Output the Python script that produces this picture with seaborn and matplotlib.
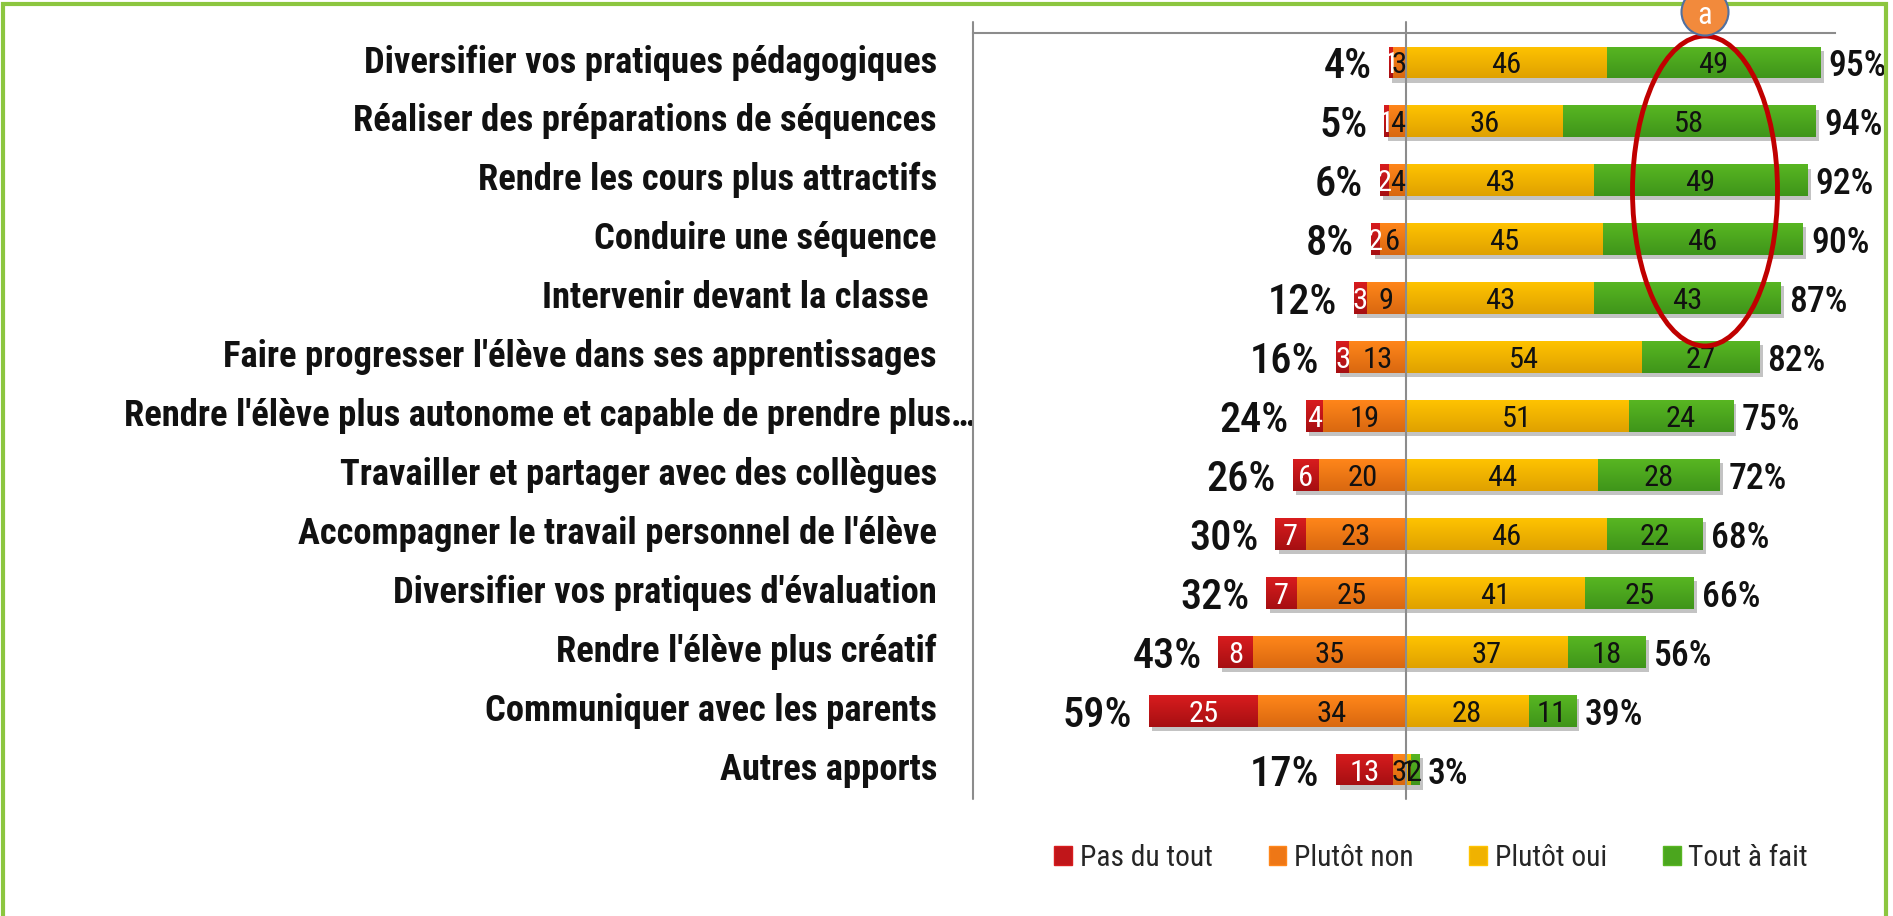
import numpy as np
import pandas as pd
import matplotlib
matplotlib.use("Agg")
import matplotlib.pyplot as plt
import seaborn as sns
from matplotlib import patheffects as pe
from matplotlib import font_manager as fm
from matplotlib.patches import Ellipse, Circle, Rectangle
from matplotlib.colors import LinearSegmentedColormap
from matplotlib.textpath import TextPath
import matplotlib.transforms as mtransforms

# ---------------- data ----------------
categories = [
    "Diversifier vos pratiques pédagogiques",
    "Réaliser des préparations de séquences",
    "Rendre les cours plus attractifs",
    "Conduire une séquence",
    "Intervenir devant la classe ",
    "Faire progresser l'élève dans ses apprentissages",
    "Rendre l'élève plus autonome et capable de prendre plus…",
    "Travailler et partager avec des collègues",
    "Accompagner le travail personnel de l'élève",
    "Diversifier vos pratiques d'évaluation",
    "Rendre l'élève plus créatif",
    "Communiquer avec les parents",
    "Autres apports",
]
pas_du_tout = [1, 1, 2, 2, 3, 3, 4, 6, 7, 7, 8, 25, 13]
plutot_non = [3, 4, 4, 6, 9, 13, 19, 20, 23, 25, 35, 34, 3]
plutot_oui = [46, 36, 43, 45, 43, 54, 51, 44, 46, 41, 37, 28, 1]
tout_a_fait = [49, 58, 49, 46, 43, 27, 24, 28, 22, 25, 18, 11, 2]
neg_totals = ["4%", "5%", "6%", "8%", "12%", "16%", "24%", "26%", "30%", "32%", "43%", "59%", "17%"]
pos_totals = ["95%", "94%", "92%", "90%", "87%", "82%", "75%", "72%", "68%", "66%", "56%", "39%", "3%"]
series_names = ["Pas du tout", "Plutôt non", "Plutôt oui", "Tout à fait"]

# ---------------- fonts ----------------
sns.set_style("white")
plt.rcParams["font.family"] = ["Liberation Sans", "DejaVu Sans"]


def _wnum(w):
    if isinstance(w, str):
        return fm.weight_dict.get(w, 400)
    return int(w)


def pick_fonts():
    prefs = ["liberation sans narrow", "arial narrow", "roboto condensed", "open sans condensed",
             "noto sans condensed", "dejavu sans condensed", "pt sans narrow"]
    cands = []
    for e in fm.fontManager.ttflist:
        nm = e.name.lower()
        st = str(e.stretch).lower()
        narrow = ("narrow" in nm or "condensed" in nm or st in ("condensed", "semi-condensed")
                  or "condensed" in e.fname.lower() or "narrow" in e.fname.lower())
        if narrow and e.style == "normal" and "cjk" not in nm:
            cands.append(e)
    if not cands:
        base = ["Liberation Sans", "DejaVu Sans"]
        return (fm.FontProperties(family=base), fm.FontProperties(family=base),
                fm.FontProperties(family=base, weight="bold"))

    def rank(e):
        nm = e.name.lower()
        fn = e.fname.lower()
        for k, p in enumerate(prefs):
            if p in nm or p.replace(" ", "") in fn.replace("-", "").replace("_", ""):
                return k
        return len(prefs)

    cands.sort(key=rank)
    best = cands[0]
    fam = [e for e in cands if e.name == best.name and str(e.stretch) == str(best.stretch)]
    reg = min(fam, key=lambda e: abs(_wnum(e.weight) - 400))
    med = min(fam, key=lambda e: (abs(_wnum(e.weight) - 500), _wnum(e.weight) > 500))
    bold = min(fam, key=lambda e: abs(_wnum(e.weight) - 700))
    return (fm.FontProperties(fname=reg.fname), fm.FontProperties(fname=med.fname),
            fm.FontProperties(fname=bold.fname))


FP_REG, FP_MED, FP_BOLD = pick_fonts()

col_top = {"Pas du tout": "#D81C1E", "Plutôt non": "#FF861A", "Plutôt oui": "#FFC300", "Tout à fait": "#58B622"}
col_bot = {"Pas du tout": "#A60F12", "Plutôt non": "#D96810", "Plutôt oui": "#DFA100", "Tout à fait": "#3F951A"}
col_mid = {"Pas du tout": "#C0161A", "Plutôt non": "#EE7716", "Plutôt oui": "#F0B200", "Tout à fait": "#4BA61E"}

df = pd.DataFrame({
    "cat": categories,
    "pas": pas_du_tout,
    "non": plutot_non,
    "oui": plutot_oui,
    "tout": tout_a_fait,
})
df["neg_full"] = -(df["pas"] + df["non"])
df["neg_inner"] = -df["non"]
df["pos_full"] = df["oui"] + df["tout"]
df["pos_inner"] = df["oui"]

W, H = 1893, 916
DPI = 100
fig = plt.figure(figsize=(W / DPI, H / DPI), dpi=DPI)
ax_top, ax_bot = 33, 799
ax_l, ax_r = 973, 1835
ax = fig.add_axes([ax_l / W, (H - ax_bot) / H, (ax_r - ax_l) / W, (ax_bot - ax_top) / H])
renderer = fig.canvas.get_renderer()


def fit_w(fp, sample, target_px):
    p = fp.copy()
    p.set_size(20)
    t = fig.text(0, 0, sample, fontproperties=p)
    w = t.get_window_extent(renderer).width
    t.remove()
    q = fp.copy()
    q.set_size(20 * target_px / w)
    return q


def fit_h(fp, sample, target_px):
    p = fp.copy()
    tp = TextPath((0, 0), sample, size=20, prop=p)
    h = tp.get_extents().height
    q = fp.copy()
    q.set_size(20 * target_px / (h * DPI / 72))
    return q


FP_CAT = fit_w(FP_BOLD, "Faire progresser l'élève dans ses apprentissages", 711)
FP_LTOT = fit_h(FP_MED, "59", 31)
FP_RTOT = fit_h(FP_MED, "39", 26)
FP_SEG = fit_h(FP_REG, "46", 22)
FP_LEG = fit_h(FP_REG, "P", 21)

BAR_W = 0.54
layers = [
    ("neg_full", "Pas du tout", 1, True),
    ("pos_full", "Tout à fait", 1, True),
    ("neg_inner", "Plutôt non", 2, False),
    ("pos_inner", "Plutôt oui", 2, False),
]
shadow = [pe.SimplePatchShadow(offset=(2.5, -3), shadow_rgbFace="#7a7a7a", alpha=0.45), pe.Normal()]
grad = np.linspace(0, 1, 64).reshape(-1, 1)
for col, name, z, shad in layers:
    n_before = len(ax.patches)
    sns.barplot(data=df, y="cat", x=col, orient="h", color=col_mid[name], saturation=1,
                width=BAR_W, errorbar=None, ax=ax, linewidth=0)
    new = ax.patches[n_before:]
    cmap = LinearSegmentedColormap.from_list(name, [col_top[name], col_bot[name]])
    for p in new:
        p.set_zorder(z)
        if shad:
            p.set_path_effects(shadow)
        x0, y0, w, h = p.get_x(), p.get_y(), p.get_width(), p.get_height()
        xmin, xmax = min(x0, x0 + w), max(x0, x0 + w)
        ymin, ymax = min(y0, y0 + h), max(y0, y0 + h)
        im = ax.imshow(grad, cmap=cmap, extent=(xmin, xmax, ymax, ymin), origin="upper",
                       aspect="auto", zorder=z + 0.1, interpolation="bilinear")
        im.set_clip_path(p)

ax.set_xlim(-99.3, 98.4)
ax.set_ylim(len(categories) - 0.5, -0.5)
ax.set_xlabel("")
ax.set_ylabel("")
ax.set_xticks([])
ax.tick_params(left=False, labelleft=False, bottom=False, labelbottom=False)
for s in ["left", "right", "bottom"]:
    ax.spines[s].set_visible(False)
ax.spines["top"].set_visible(True)
ax.spines["top"].set_color("#8C8C8C")
ax.spines["top"].set_linewidth(1.5)
ax.axvline(-99.3, ymin=0, ymax=1.015, color="#8C8C8C", lw=1.5, clip_on=False, zorder=5)
ax.axvline(0, ymin=0, ymax=1.015, color="#8C8C8C", lw=1.5, clip_on=False, zorder=5)

# ---------------- texts ----------------
blend = mtransforms.blended_transform_factory(ax.transAxes, ax.transData)
for i, cat in enumerate(categories):
    off = -26 if i != 6 else 1.5
    ax.annotate(cat, xy=(0, i), xycoords=blend, xytext=(off, 0), textcoords="offset points",
                ha="right", va="center", fontproperties=FP_CAT, color="#111111",
                annotation_clip=False)

for i in range(len(categories)):
    pas, non, oui, tout = pas_du_tout[i], plutot_non[i], plutot_oui[i], tout_a_fait[i]
    segs = [(-(non + pas / 2), pas, "white"), (-non / 2, non, "#111111"),
            (oui / 2, oui, "#111111"), (oui + tout / 2, tout, "#111111")]
    for xc, v, c in segs:
        ax.text(xc, i, f"{v}", ha="center", va="center_baseline", fontproperties=FP_SEG, color=c, zorder=6)
    ax.annotate(neg_totals[i], xy=(-(pas + non), i), xytext=(-12, 0), textcoords="offset points",
                ha="right", va="center_baseline", fontproperties=FP_LTOT, color="#111111")
    ax.annotate(pos_totals[i], xy=(oui + tout, i), xytext=(6, 0), textcoords="offset points",
                ha="left", va="center_baseline", fontproperties=FP_RTOT, color="#111111")

# ---------------- legend ----------------
handles = [Rectangle((0, 0), 1, 1, facecolor=col_mid[n], edgecolor=col_top[n], lw=1) for n in series_names]
fig.legend(handles, series_names, loc="center", bbox_to_anchor=(1431 / W, (H - 858) / H), ncol=4,
           frameon=False, prop=FP_LEG, handlelength=0.6, handleheight=0.6, handletextpad=0.25,
           columnspacing=1.9)

# ---------------- decorations ----------------
fig.patches.append(Rectangle((3 / W, -0.02), (1886 - 3) / W, (H - 4) / H + 0.02, transform=fig.transFigure,
                             fill=False, edgecolor="#8CC63F", lw=3))
ell = Ellipse((17.05, (H - 191) / 100), 1.45, 3.10, transform=fig.dpi_scale_trans, fill=False,
              edgecolor="#C00000", lw=3.5, zorder=10)
fig.patches.append(ell)
circ = Circle((17.05, (H - 12) / 100), 0.235, transform=fig.dpi_scale_trans, facecolor="#F28A3C",
              edgecolor="#5070A0", lw=1.5, zorder=11)
fig.patches.append(circ)
fa = FP_REG.copy()
fa.set_size(22)
fig.text(1705 / W, (H - 16) / H, "a", ha="center", va="center", fontproperties=fa, color="white", zorder=12)

fig.savefig("out.png", dpi=DPI)
